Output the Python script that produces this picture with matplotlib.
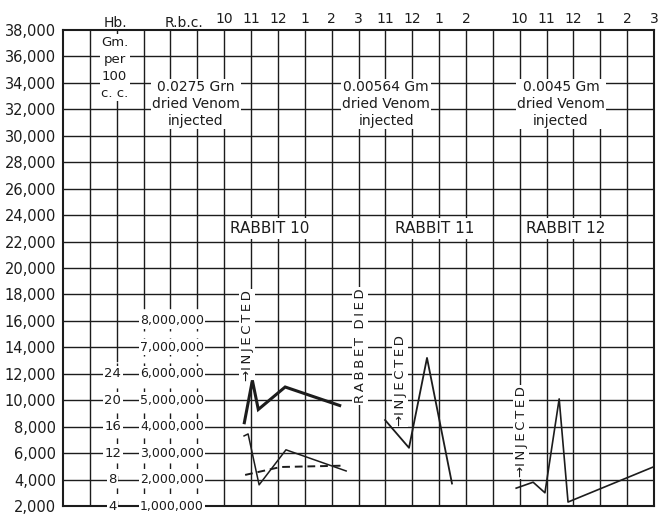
import matplotlib.pyplot as plt

plt.rcParams['font.family'] = 'DejaVu Sans'

# time columns along the top (grid column index -> clock hour)
hour_cols = [6, 7, 8, 9, 10, 11, 12, 13, 14, 15, 17, 18, 19, 20, 21, 22]
hour_labels = ["10", "11", "12", "1", "2", "3", "11", "12", "1", "2",
               "10", "11", "12", "1", "2", "3"]

# left scale (count)
count_ticks = list(range(2000, 38001, 2000))
# inner scales: Hb gm per 100 cc and red cells
hb_vals = [24, 20, 16, 12, 8, 4]
rbc_vals = [8000000, 7000000, 6000000, 5000000, 4000000, 3000000, 2000000, 1000000]

# Rabbit 10 curves
r10_thick_x = [6.75, 7.05, 7.27, 8.27, 10.3]
r10_thick_y = [8300, 11500, 9300, 11000, 9600]
r10_thin_x = [6.74, 6.89, 7.30, 8.30, 10.54]
r10_thin_y = [7300, 7450, 3600, 6250, 4650]
r10_dash_x = [6.78, 8.1, 10.42]
r10_dash_y = [4350, 4950, 5050]
# Rabbit 11
r11_x = [11.99, 12.88, 13.55, 14.48]
r11_y = [8500, 6400, 13200, 3700]
# Rabbit 12
r12_x = [16.87, 17.50, 17.94, 18.47, 18.80, 21.97]
r12_y = [3350, 3800, 3000, 10100, 2300, 4950]

ink = '#1c1c1c'
W, H = 659, 514
fig = plt.figure(figsize=(W / 100, H / 100), dpi=100)
ax = fig.add_axes([63 / W, 1 - 506 / H, (654 - 63) / W, (506 - 30) / H])
ax.set_xlim(0, 22)
ax.set_ylim(2000, 38000)

# grid, drawn by hand so some columns can go dashed in the scale area
for y in count_ticks[1:-1]:
    ax.plot([0, 22], [y, y], color=ink, lw=1.0, zorder=1)
dash_from = {2: 13000, 3: 17000, 4: 17000, 5: 17000}
for i in range(1, 22):
    if i in dash_from:
        cut = dash_from[i]
        ax.plot([i, i], [cut, 38000], color=ink, lw=1.0, zorder=1)
        ax.plot([i, i], [2000, cut], color=ink, lw=1.0, ls=(0, (4, 5)), zorder=1)
    else:
        ax.plot([i, i], [2000, 38000], color=ink, lw=1.0, zorder=1)

for s in ax.spines.values():
    s.set_linewidth(1.5)
    s.set_color(ink)

ax.set_yticks(count_ticks)
ax.set_yticklabels([f"{v:,}" for v in count_ticks], fontsize=10.5, color=ink)
ax.xaxis.tick_top()
ax.set_xticks(hour_cols)
ax.set_xticklabels(hour_labels, fontsize=10, color=ink)
ax.tick_params(length=0, pad=5)
ax.tick_params(axis='x', pad=3)

wb = dict(facecolor='white', edgecolor='none', pad=1.0)

# inner scales
for hb in hb_vals:
    ax.text(1.85, hb * 500, str(hb), ha='center', va='center', fontsize=9.5,
            color=ink, bbox=wb, zorder=4)
for r in rbc_vals:
    ax.text(4.06, r / 500, f"{r:,}", ha='center', va='center', fontsize=9,
            color=ink, bbox=wb, zorder=4)

ax.text(1.95, 38000, "Hb.", ha='center', va='bottom', fontsize=10, color=ink)
ax.text(4.5, 38000, "R.b.c.", ha='center', va='bottom', fontsize=10, color=ink)
ax.text(1.92, 35150, "Gm.\nper\n100\nc. c.", ha='center', va='center',
        fontsize=9.5, color=ink, linespacing=1.4, bbox=wb, zorder=4)

venom = [(4.95, "0.0275 Grn"), (12.03, "0.00564 Gm"), (18.54, "0.0045 Gm")]
for x, dose in venom:
    ax.text(x, 32400, dose + "\ndried Venom\ninjected", ha='center', va='center',
            fontsize=10, color=ink, linespacing=1.25, bbox=wb, zorder=4)

for x, name in [(7.71, "RABBIT 10"), (13.85, "RABBIT 11"), (18.73, "RABBIT 12")]:
    ax.text(x, 23000, name, ha='center', va='center', fontsize=11, color=ink,
            bbox=dict(facecolor='white', edgecolor='none', pad=2), zorder=4)

thin = "\u2009"
inj = "\u2192" + thin.join("INJECTED")
for x, y in [(6.85, 14900), (12.55, 11500), (17.05, 7600)]:
    ax.text(x, y, inj, rotation=90, ha='center', va='center', fontsize=9.5,
            color=ink, bbox=wb, zorder=4)
ax.text(11.06, 14100, thin.join("RABBET") + "  " + thin.join("DIED"), rotation=90,
        ha='center', va='center', fontsize=9.5, color=ink, bbox=wb, zorder=4)

# curves
ax.plot(r10_thick_x, r10_thick_y, color=ink, lw=2.2, zorder=5, solid_joinstyle='miter')
ax.plot(r10_thin_x, r10_thin_y, color=ink, lw=1.1, zorder=5)
ax.plot(r10_dash_x, r10_dash_y, color=ink, lw=1.4, ls=(0, (4, 2.5)), zorder=5)
ax.plot(r11_x, r11_y, color=ink, lw=1.3, zorder=5)
ax.plot(r12_x, r12_y, color=ink, lw=1.2, zorder=5)

fig.savefig("out.png", dpi=100)
